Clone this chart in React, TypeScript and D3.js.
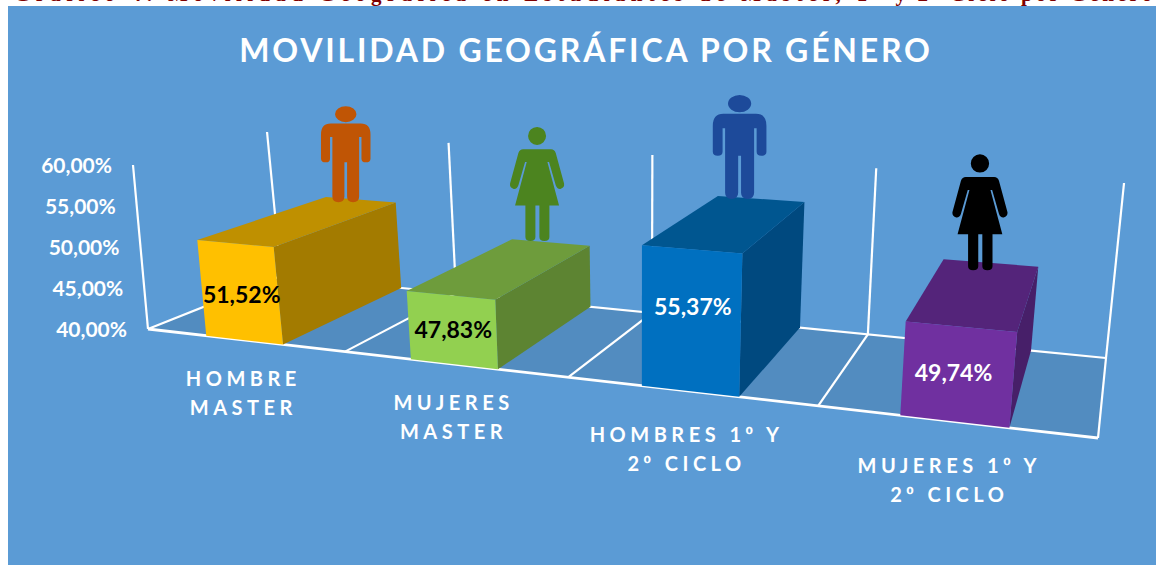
import React from "react";
import * as d3 from "d3";

const categories = ["HOMBRE MASTER", "MUJERES MASTER", "HOMBRES 1º Y 2º CICLO", "MUJERES 1º Y 2º CICLO"];
const categoryLines = [["HOMBRE", "MASTER"], ["MUJERES", "MASTER"], ["HOMBRES 1º Y", "2º CICLO"], ["MUJERES 1º Y", "2º CICLO"]];
const values = [51.52, 47.83, 55.37, 49.74];
const ticks = [40, 45, 50, 55, 60];

const frontColors = ["#FFC000", "#92D050", "#0070C0", "#7030A0"];
const topColors = ["#BF9000", "#6E9C3C", "#005690", "#54247A"];
const sideColors = ["#A37B00", "#5D8432", "#00497F", "#471F69"];
const labelColors = ["#000", "#000", "#fff", "#fff"];
const iconKinds = ["man", "woman", "man", "woman"];
const iconColors = ["#C05505", "#4C841F", "#1D4A9A", "#000"];
const iconHeights = [96, 114, 104, 116];

const width = 1156;
const height = 565;

type Pt = [number, number];

// unit square -> quad (front left, front right, back right, back left)
function homography(q: Pt[]) {
  const [[x0, y0], [x1, y1], [x2, y2], [x3, y3]] = q;
  const dx1 = x1 - x2, dx2 = x3 - x2, sx = x0 - x1 + x2 - x3;
  const dy1 = y1 - y2, dy2 = y3 - y2, sy = y0 - y1 + y2 - y3;
  const den = dx1 * dy2 - dx2 * dy1;
  const g = (sx * dy2 - dx2 * sy) / den;
  const h = (dx1 * sy - sx * dy1) / den;
  const a = x1 - x0 + g * x1, b = x3 - x0 + h * x3;
  const d = y1 - y0 + g * y1, e = y3 - y0 + h * y3;
  return (u: number, v: number): Pt => {
    const w = g * u + h * v + 1;
    return [(a * u + b * v + x0) / w, (d * u + e * v + y0) / w];
  };
}

const floorCorners = homography([[148, 329], [1098, 438], [1106, 358], [281, 276]]);

// the chart's own perspective is a little stronger than the corners alone give
const warp = d3.scaleLinear().domain([0, 0.25, 0.5, 0.75, 1]).range([0, 0.242, 0.492, 0.745, 1]);
const floorPlane = (u: number, v: number) => floorCorners(warp(u), v);

// height of the 60% plane above the floor, in pixels: grows to the right, shrinks to the back
const frontHeight = d3.scaleLinear().domain([148, 1098]).range([164, 200]);
const backHeight = d3.scaleLinear().domain([281, 1106]).range([144, 175]);
// verticals fan out from the picture's centre
const lean = d3.scaleLinear().domain([148, 281, 640, 1106]).range([-0.0915, -0.097, 0, 0.103]);

const topPlane = (u: number, v: number): Pt => {
  const b = floorPlane(u, v);
  const h = frontHeight(b[0]) + (backHeight(b[0]) - frontHeight(b[0])) * v;
  return [b[0] + lean(b[0]) * h, b[1] - h];
};

const y = d3.scaleLinear().domain([40, 60]).range([0, 1]);
const x = d3.scaleBand().domain(categories).range([0, 1]).paddingInner(0.61).paddingOuter(0.305);

// u along the category axis, v into the depth, value on the y axis
function project(u: number, v: number, value: number): Pt {
  const a = floorPlane(u, v);
  const b = topPlane(u, v);
  const t = y(value);
  return [a[0] + (b[0] - a[0]) * t, a[1] + (b[1] - a[1]) * t];
}

const poly = d3.line().curve(d3.curveLinearClosed);
const seg = (a: Pt, b: Pt) => d3.line()([a, b]) as string;
const pct = d3.formatLocale({ decimal: ",", thousands: ".", grouping: [3], currency: ["", "€"] }).format(".2f");

const manPath =
  "M-45,52H45Q74,52 74,85V157Q74,168 60,168Q47,168 47,157V92H40V270Q40,287 22,287Q4,287 4,270V168H-4V270Q-4,287 -22,287Q-40,287 -40,270V92H-47V157Q-47,168 -60,168Q-74,168 -74,157V85Q-74,52 -45,52Z" +
  "M-32,24a32,24 0 1,0 64,0a32,24 0 1,0 -64,0Z";
const womanPath =
  "M-42,67H42Q52,67 56,78L81,170Q83,183 70,186Q60,187 56,175L36,105H31L66,236H37V330Q37,342 22,342Q7,342 7,330V236H-5V330Q-5,342 -20,342Q-35,342 -35,330V236H-66L-31,105H-36L-56,175Q-60,187 -70,186Q-83,183 -81,170L-56,78Q-52,67 -42,67Z" +
  "M-27,27a27,27 0 1,0 54,0a27,27 0 1,0 -54,0Z";

const fontFamily = "Lato, sans-serif";
const labelNudge: Pt[] = [[2, 3], [1, 0], [2, -13], [-4, -1]];
const iconNudge: Pt[] = [[-1.5, -2], [-3, -7], [-14, -5], [-7.5, 1]];
const axisLabelNudge: Pt[] = [[-1, 39], [-0.5, 39], [-3.5, 44], [-5, 44]];

// Lato's º has no underline, Liberation Sans has
function ordinalLine(line: string) {
  const parts = line.split("º");
  return parts.map((part, i) => (
    <React.Fragment key={i}>
      {i > 0 && <tspan fontFamily="'Liberation Sans', sans-serif">º</tspan>}
      {part}
    </React.Fragment>
  ));
}

export default function App() {
  const step = x.step();
  const gridU = d3.range(0, categories.length + 1).map((i) => i * step);
  return (
    <svg width={width} height={height} style={{ position: "absolute", left: 0, top: 0, background: "#fff" }} fontFamily={fontFamily}>
      <text x={14} y={1} fontFamily="'Liberation Serif', serif" fontWeight="bold" fontSize={21} fill="#7F0000">
        <tspan letterSpacing={5.35}>Gráfico 4. Movilidad Geográfica en Estudiantes de Máster, 1º </tspan>
        <tspan letterSpacing={3.2}>y 2º Ciclo por Género</tspan>
      </text>
      <rect x={8} y={6} width={width - 8} height={height - 6} fill="#5B9BD5" />
      <text x={586} y={62} textAnchor="middle" fill="#fff" fontWeight="bold" fontSize={32} letterSpacing={2.8}>
        MOVILIDAD GEOGRÁFICA POR GÉNERO
      </text>

      <path d={poly([floorPlane(0, 0), floorPlane(1, 0), floorPlane(1, 1), floorPlane(0, 1)]) as string} fill="#528CC0" />
      {gridU.map((u, i) => (
        <g key={i} stroke="#fff" strokeWidth={2.2} fill="none">
          <path d={seg(floorPlane(u, 0), floorPlane(u, 1))} />
          <path d={seg(floorPlane(u, 1), topPlane(u, 1))} />
        </g>
      ))}
      <g stroke="#fff" strokeWidth={2.2} fill="none">
        <path d={seg(floorPlane(0, 0), topPlane(0, 0))} />
        <path d={seg(floorPlane(0, 1), floorPlane(1, 1))} />
        <path d={seg(floorPlane(0, 0), floorPlane(1, 0))} strokeWidth={2.8} />
      </g>

      {ticks.map((t) => {
        const p = project(0, 0, t);
        return (
          <text key={t} x={p[0] - 21} y={p[1] + 8} textAnchor="end" fill="#fff" fontWeight="bold" fontSize={21}>
            {pct(t)}%
          </text>
        );
      })}

      {categories.map((c, i) => {
        const u0 = x(c) as number;
        const u1 = u0 + x.bandwidth();
        const v = values[i];
        const front = [project(u0, 0, 40), project(u1, 0, 40), project(u1, 0, v), project(u0, 0, v)];
        const side = [project(u1, 0, 40), project(u1, 1, 40), project(u1, 1, v), project(u1, 0, v)];
        const top = [project(u0, 0, v), project(u1, 0, v), project(u1, 1, v), project(u0, 1, v)];
        const mid = project((u0 + u1) / 2, 0, 40 + (v - 40) / 2);
        const feet = project((u0 + u1) / 2, 0.88, v);
        const scale = iconHeights[i] / (iconKinds[i] === "man" ? 287 : 342);
        const base = floorPlane(step * (i + 0.5), 0);
        return (
          <g key={c}>
            <path d={poly(side) as string} fill={sideColors[i]} />
            <path d={poly(top) as string} fill={topColors[i]} />
            <path d={poly(front) as string} fill={frontColors[i]} />
            <text x={mid[0] + labelNudge[i][0]} y={mid[1] + labelNudge[i][1] + 8} textAnchor="middle" fill={labelColors[i]} fontWeight="bold" fontSize={23}>
              {pct(v)}%
            </text>
            <path
              d={iconKinds[i] === "man" ? manPath : womanPath}
              fill={iconColors[i]}
              transform={`translate(${feet[0] + iconNudge[i][0]},${feet[1] + iconNudge[i][1] - iconHeights[i]}) scale(${scale})`}
            />
            {categoryLines[i].map((line, j) => (
              <text
                key={line}
                x={base[0] + axisLabelNudge[i][0]}
                y={base[1] + axisLabelNudge[i][1] + 7 + j * 29}
                textAnchor="middle"
                fill="#fff"
                fontWeight="bold"
                fontSize={20}
                letterSpacing={4.5}
              >
                {ordinalLine(line)}
              </text>
            ))}
          </g>
        );
      })}
    </svg>
  );
}
